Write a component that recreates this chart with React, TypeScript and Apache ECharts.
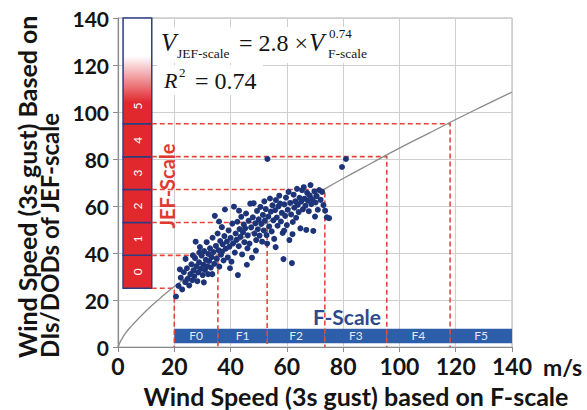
import React, { useEffect, useRef } from "react";
import * as echarts from "echarts";

// JEF-scale classes (lower / upper bound of each class, m/s)
const jefLevels = ["0", "1", "2", "3", "4", "5"];
const jefLower = [25, 39, 53, 67, 81, 95];
const jefUpper = [39, 53, 67, 81, 95, 140];
// F-scale classes along the x axis (m/s)
const fLevels = ["F0", "F1", "F2", "F3", "F4", "F5"];
const fLower = [20, 35.5, 53, 73.5, 95.5, 118];
const fUpper = [35.5, 53, 73.5, 95.5, 118, 140];
// where each JEF class boundary meets the fitted curve
const crossX = [20, 35.5, 53, 73.5, 95.5, 118];
const crossY = [25, 39, 53, 67, 81, 95];
// fitted curve
const fitX = [0, 2, 5, 10, 15, 20, 30, 40, 50, 60, 70, 80, 90, 100, 110, 120, 130, 140];
const fitY = [0, 4.7, 9.2, 15.4, 20.8, 25.7, 34.7, 42.9, 50.6, 58.0, 64.9, 71.7, 78.2, 84.6, 90.7, 96.8, 102.7, 108.5];
// observed events: [F-scale speed, JEF-scale speed]
const gusts: [number, number][] = [
  [20.6, 21.5], [21.5, 26], [22.3, 29.5], [22.8, 24.5], [23.4, 31.8], [23.9, 27.6], [24.5, 33.5], [24.8, 29],
  [25.3, 26.2], [25.7, 31], [26.1, 35.2], [26.4, 28.4], [22, 33], [24, 37.5],
  [26.8, 32.6], [27.1, 30.1], [27.4, 37.8], [27.9, 34.4], [28.2, 28], [28.5, 31.7], [28.8, 36], [29.1, 42.5],
  [29.4, 33.2], [29.7, 38.9], [30.1, 30.6], [30.3, 35], [30.6, 40.8], [30.9, 32.8], [31.2, 37.1], [31.5, 44.6],
  [31.8, 34.3], [32.1, 39.6], [27.6, 44.8], [28.9, 40.2], [26.6, 39], [30.5, 27.5], [32, 31],
  [32.4, 36.6], [32.7, 42], [33, 33.8], [33.3, 38.2], [33.6, 46.5], [33.9, 40.4], [34.2, 35.4], [34.4, 55.8],
  [34.8, 43], [35.1, 37.5], [35.4, 48.3], [35.7, 41.2], [36, 34.2], [36.3, 45.1], [36.6, 39.3], [36.9, 51],
  [37.2, 43.7], [37.5, 36.8], [37.8, 47.2], [38, 58.5], [33.5, 31], [35.9, 53.4], [37, 40.6],
  [38.3, 41.8], [38.7, 44.9], [39, 38.1], [39.3, 49.6], [39.6, 42.7], [40, 46.4], [40.3, 36.3], [40.6, 52.5],
  [40.9, 44.1], [41.2, 59.7], [41.5, 40.2], [41.8, 48.3], [42.1, 45.6], [42.4, 53.3], [42.6, 30.6], [42.9, 42.9],
  [43.2, 50.2], [43.5, 46.9], [43.8, 55.4], [44.1, 39.4], [44.4, 48.8], [44.7, 52.1], [39.8, 33.5], [43, 58],
  [44.9, 44.6],
  [45.2, 50.5], [45.5, 56.8], [45.8, 35], [46.1, 47.5], [46.4, 53.7], [46.7, 44], [47, 61], [47.3, 50.9],
  [47.6, 38], [47.9, 55.2], [48.2, 61.2], [48.5, 48.2], [48.8, 52.6], [49.1, 45.5], [49.4, 57.9], [49.7, 50.1],
  [50, 54.3], [50.3, 47.4], [50.6, 59.6], [50.9, 52.4], [51.2, 44.8], [51.5, 56.2], [51.8, 49.6], [46, 42],
  [49, 41], [52, 62],
  [52.2, 53.8], [52.5, 58.7], [52.8, 47.6], [53.1, 80], [53.4, 55.5], [53.7, 51.3], [54, 63.2], [54.3, 57.6],
  [54.6, 49.2], [54.9, 60.3], [55.2, 53.9], [55.5, 46], [55.8, 58.2], [56.1, 62.5], [56.4, 55.1], [56.7, 51.6],
  [57, 59.8], [57.3, 64.4], [57.6, 61], [57.9, 53.4], [58.2, 57.1], [58.5, 48.5], [53, 44], [56, 42.5],
  [58.8, 37.4], [59.1, 60.7], [59.4, 55.8], [59.7, 63.6], [60, 51.9], [60.3, 58.4], [60.6, 66], [60.9, 45.5],
  [61.2, 61.3], [61.5, 56.4], [61.8, 35.7], [62.1, 53.2], [62.4, 64.8], [62.7, 59.3], [63, 62], [63.3, 55],
  [63.6, 67.3], [63.9, 60.5], [64.2, 57.4], [64.5, 63.5], [64.8, 50.5], [59, 49.5], [62, 48],
  [65.1, 61.9], [65.4, 66.7], [65.7, 58.6], [66, 68], [66.3, 63.1], [66.6, 60.1], [66.9, 49.8], [67.2, 65.6],
  [67.5, 62.2], [67.8, 57.8], [68.1, 64.5], [68.4, 68.9], [68.7, 60.8], [69.1, 62.9], [69.4, 49.4], [69.8, 66.2],
  [70.2, 61.5], [70.6, 64.2], [71, 58.4], [71.5, 66.8], [72, 62.6], [72.5, 66], [73, 60.4], [73.6, 58],
  [74.2, 55.2], [75, 54.8], [70, 55.5],
  [79.6, 76.6], [81, 80],
];

const SANS = "Lato, 'Open Sans', sans-serif";
const SERIF = "'Liberation Serif', 'Times New Roman', serif";
const RED = "#e1282d";
const NAVY = "#2b3f80";
const FBLUE = "#2c5ea9";
const INK = "#141414";

const JEF_X = [1.8, 12];
const F_Y = [1.6, 7.8];

export default function App() {
  const ref = useRef<HTMLDivElement>(null);

  useEffect(() => {
    if (!ref.current) return;
    const chart = echarts.init(ref.current, null, { renderer: "svg" });

    const txt = (x: number, y: number, text: string, font: string, fill: string, align = "left", extra: any = {}) => ({
      type: "text",
      x,
      y,
      z: 20,
      silent: true,
      ...extra,
      style: { text, font, fill, align, verticalAlign: "middle", textAlign: align, textVerticalAlign: "middle" },
    });

    const option: any = {
      animation: false,
      backgroundColor: "#ffffff",
      grid: { left: 118, right: 75, top: 18, bottom: 63, show: true, borderColor: "#b0b0b0", borderWidth: 1 },
      xAxis: {
        type: "value",
        min: 0,
        max: 140,
        interval: 20,
        axisLine: { show: true, lineStyle: { color: "#8c8c8c", width: 1.2 } },
        axisTick: { show: true, inside: false, length: 5, lineStyle: { color: "#8c8c8c" } },
        splitLine: { show: true, lineStyle: { color: "#cfcfcf", width: 1 } },
        axisLabel: { color: INK, fontSize: 23, fontWeight: "bold", fontFamily: SANS, margin: 7 },
      },
      yAxis: {
        type: "value",
        min: 0,
        max: 140,
        interval: 20,
        axisLine: { show: true, lineStyle: { color: "#8c8c8c", width: 1.2 } },
        axisTick: { show: true, inside: false, length: 5, lineStyle: { color: "#8c8c8c" } },
        splitLine: { show: true, lineStyle: { color: "#cfcfcf", width: 1 } },
        axisLabel: { color: INK, fontSize: 21, fontWeight: "bold", fontFamily: SANS, margin: 9 },
      },
      series: [
        {
          type: "custom",
          name: "F-scale bar",
          coordinateSystem: "cartesian2d",
          silent: true,
          z: 3,
          data: fLevels.map((_, i) => [fLower[i], F_Y[1]]),
          renderItem: (params: any, api: any) => {
            const i = params.dataIndex;
            const a = api.coord([fLower[i], F_Y[0]]);
            const b = api.coord([fUpper[i], F_Y[1]]);
            return {
              type: "group",
              children: [
                { type: "rect", shape: { x: a[0], y: b[1], width: b[0] - a[0], height: a[1] - b[1] }, style: { fill: FBLUE } },
                {
                  type: "text",
                  x: (a[0] + b[0]) / 2,
                  y: (a[1] + b[1]) / 2,
                  style: { text: fLevels[i], fill: "#e4e8f2", font: `12px ${SANS}`, align: "center", verticalAlign: "middle" },
                },
              ],
            };
          },
        },
        {
          type: "custom",
          name: "JEF-scale bar",
          coordinateSystem: "cartesian2d",
          silent: true,
          z: 3,
          data: jefLevels.map((_, i) => [JEF_X[0], jefLower[i]]),
          renderItem: (params: any, api: any) => {
            const i = params.dataIndex;
            const last = i === jefLevels.length - 1;
            const a = api.coord([JEF_X[0], jefLower[i]]);
            const b = api.coord([JEF_X[1], jefUpper[i]]);
            const fill = last
              ? new echarts.graphic.LinearGradient(0, 1, 0, 0, [
                  { offset: 0, color: RED },
                  { offset: 0.2, color: RED },
                  { offset: 0.64, color: "#ffffff" },
                  { offset: 1, color: "#ffffff" },
                ])
              : RED;
            const ly = last ? api.coord([0, jefLower[i] + 7.5])[1] : (a[1] + b[1]) / 2;
            return {
              type: "group",
              children: [
                {
                  type: "rect",
                  shape: { x: a[0], y: b[1], width: b[0] - a[0], height: a[1] - b[1] },
                  style: { fill, stroke: NAVY, lineWidth: 1.5 },
                },
                {
                  type: "text",
                  x: (a[0] + b[0]) / 2,
                  y: ly,
                  rotation: Math.PI / 2,
                  style: { text: jefLevels[i], fill: "#ffffff", font: `12px ${SANS}`, align: "center", verticalAlign: "middle" },
                },
              ],
            };
          },
        },
        {
          type: "custom",
          name: "class connectors",
          coordinateSystem: "cartesian2d",
          silent: true,
          z: 4,
          data: crossX.map((x, i) => [x, crossY[i]]),
          renderItem: (params: any, api: any) => {
            const i = params.dataIndex;
            const p0 = api.coord([JEF_X[1], crossY[i]]);
            const p1 = api.coord([crossX[i], crossY[i]]);
            const p2 = api.coord([crossX[i], 0]);
            return {
              type: "polyline",
              shape: { points: [p0, p1, p2] },
              style: { stroke: "#e4473d", lineWidth: 1.6, lineDash: [5, 3], fill: null },
            };
          },
        },
        {
          type: "line",
          name: "fit",
          data: fitX.map((x, i) => [x, fitY[i]]),
          smooth: true,
          showSymbol: false,
          silent: true,
          z: 5,
          lineStyle: { color: "#8a8a8a", width: 1.3 },
        },
        {
          type: "scatter",
          name: "events",
          data: gusts,
          symbol: "circle",
          symbolSize: 6,
          z: 6,
          itemStyle: { color: "#1d3479", opacity: 1 },
        },
      ],
      graphic: [
        { type: "rect", z: 15, silent: true, shape: { x: 155, y: 27, width: 234, height: 36 }, style: { fill: "#ffffff" } },
        { type: "rect", z: 15, silent: true, shape: { x: 157, y: 65, width: 106, height: 30 }, style: { fill: "#ffffff" } },
        txt(161, 42, "V", `italic 25px ${SERIF}`, INK),
        txt(177, 53, "JEF-scale", `13.5px ${SERIF}`, INK),
        txt(239, 43, "= 2.8 ×", `24px ${SERIF}`, INK),
        txt(309, 42, "V", `italic 25px ${SERIF}`, INK),
        txt(329, 33, "0.74", `13px ${SERIF}`, INK),
        txt(328, 53, "F-scale", `13.5px ${SERIF}`, INK),
        txt(164, 80, "R", `italic 22px ${SERIF}`, INK),
        txt(179, 72, "2", `13px ${SERIF}`, INK),
        txt(195, 81, "= 0.74", `24px ${SERIF}`, INK),
        txt(167, 186, "JEF-Scale", `bold 20px ${SANS}`, "#e03a30", "center", { rotation: Math.PI / 2 }),
        txt(347, 316, "F-Scale", `bold 21px ${SANS}`, "#2e4a8c", "center"),
        txt(543, 367, "m/s", `bold 23px ${SANS}`, INK),
        txt(356, 396, "Wind Speed (3s gust) based on F-scale", `bold 25px ${SANS}`, INK, "center"),
        txt(27, 358, "Wind Speed (3s gust) Based on", `bold 25px ${SANS}`, INK, "left", { rotation: Math.PI / 2 }),
        txt(49, 358, "DIs/DODs of JEF-scale", `bold 24px ${SANS}`, INK, "left", { rotation: Math.PI / 2 }),
      ],
    };

    chart.setOption(option);
    return () => chart.dispose();
  }, []);

  return <div ref={ref} style={{ position: "fixed", left: 0, top: 0, width: 587, height: 410 }} />;
}
